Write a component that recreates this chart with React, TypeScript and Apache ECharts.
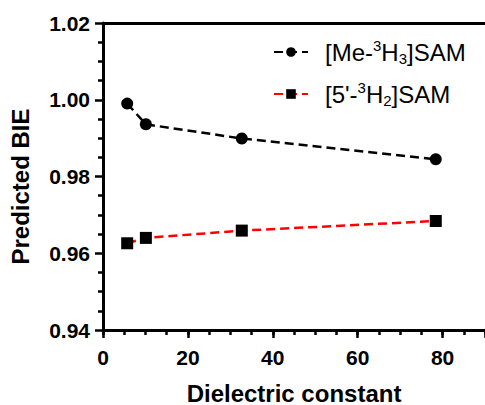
import React, { useEffect, useRef } from "react";
import * as echarts from "echarts";

const dielectric = [5.7, 10.1, 32.7, 78.4];
const meSeries = [0.999, 0.9936, 0.9899, 0.9845];
const fiveSeries = [0.9626, 0.964, 0.9659, 0.9684];
const seriesNames = ["[Me-3H3]SAM", "[5'-3H2]SAM"];
const legendRich = [
  "{a|[Me-}{sup|3}{a|H}{sub|3}{a|]SAM}",
  "{a|[5'-}{sup|3}{a|H}{sub|2}{a|]SAM}",
];

const FONT = "'Liberation Sans', Arial, sans-serif";

export default function App() {
  const ref = useRef<HTMLDivElement>(null);
  useEffect(() => {
    if (!ref.current) return;
    const chart = echarts.init(ref.current, null, { renderer: "svg" });
    const axisLine = { show: true, lineStyle: { color: "#000", width: 3 } };
    chart.setOption({
      animation: false,
      backgroundColor: "#fff",
      textStyle: { fontFamily: FONT },
      grid: { left: 103, right: 0, top: 23, bottom: 75, containLabel: false, outerBoundsMode: "none" },
      legend: {
        orient: "vertical",
        left: 268,
        top: 33,
        itemWidth: 34,
        itemHeight: 12,
        itemGap: 14,
        data: seriesNames,
        formatter: (name: string) => legendRich[seriesNames.indexOf(name)],
        textStyle: {
          fontFamily: FONT,
          padding: [0, 0, 0, 12],
          rich: {
            a: { fontSize: 24, color: "#000", fontFamily: FONT, lineHeight: 28 },
            sup: { fontSize: 15, color: "#000", fontFamily: FONT, verticalAlign: "top", lineHeight: 16 },
            sub: { fontSize: 15, color: "#000", fontFamily: FONT, verticalAlign: "bottom", lineHeight: 8 },
          },
        },
      },
      xAxis: [
        {
          type: "value",
          min: 0,
          max: 90,
          interval: 5,
          position: "bottom",
          axisLine,
          axisTick: { show: true, length: 5, lineStyle: { color: "#000", width: 2.5 } },
          axisLabel: { show: false },
          splitLine: { show: false },
        },
        {
          type: "value",
          min: 0,
          max: 90,
          interval: 20,
          position: "bottom",
          axisLine,
          axisTick: { show: true, length: 8, lineStyle: { color: "#000", width: 2.5 } },
          axisLabel: {
            show: true,
            margin: 17,
            fontSize: 21,
            fontWeight: "bold",
            color: "#000",
            fontFamily: FONT,
            formatter: (v: number) => (v % 20 === 0 ? String(v) : ""),
          },
          splitLine: { show: false },
          name: "Dielectric constant",
          nameLocation: "middle",
          nameGap: 51,
          nameTextStyle: { fontSize: 24, lineHeight: 24, fontWeight: "bold", color: "#000", fontFamily: FONT },
        },
        {
          type: "value",
          min: 0,
          max: 90,
          position: "top",
          axisLine,
          axisTick: { show: false },
          axisLabel: { show: false },
          splitLine: { show: false },
        },
      ],
      yAxis: {
        type: "value",
        min: 0.94,
        max: 1.02,
        interval: 0.02,
        axisLine,
        axisTick: { show: true, length: 8, lineStyle: { color: "#000", width: 2.5 } },
        minorTick: { show: true, splitNumber: 4, length: 5, lineStyle: { color: "#000", width: 2.5 } },
        axisLabel: {
          margin: 13,
          fontSize: 21,
          fontWeight: "bold",
          color: "#000",
          fontFamily: FONT,
          formatter: (v: number) => v.toFixed(2),
        },
        splitLine: { show: false },
        name: "Predicted BIE",
        nameLocation: "middle",
        nameGap: 71,
        nameTextStyle: { fontSize: 24, fontWeight: "bold", color: "#000", fontFamily: FONT, padding: [0, 20, 0, 0] },
      },
      series: [
        {
          name: seriesNames[0],
          type: "line",
          xAxisIndex: 0,
          data: dielectric.map((x, i) => [x, meSeries[i]]),
          symbol: "circle",
          symbolSize: 12,
          itemStyle: { color: "#000" },
          lineStyle: { color: "#000", width: 2.5, type: [9, 5] },
        },
        {
          name: seriesNames[1],
          type: "line",
          xAxisIndex: 0,
          data: dielectric.map((x, i) => [x, fiveSeries[i]]),
          symbol: "rect",
          symbolSize: 12,
          itemStyle: { color: "#000" },
          lineStyle: { color: "#ff0000", width: 2.5, type: [9, 5] },
        },
      ],
    });
    return () => chart.dispose();
  }, []);
  return <div ref={ref} style={{ width: 485, height: 405, position: "absolute", left: 0, top: 0 }} />;
}
